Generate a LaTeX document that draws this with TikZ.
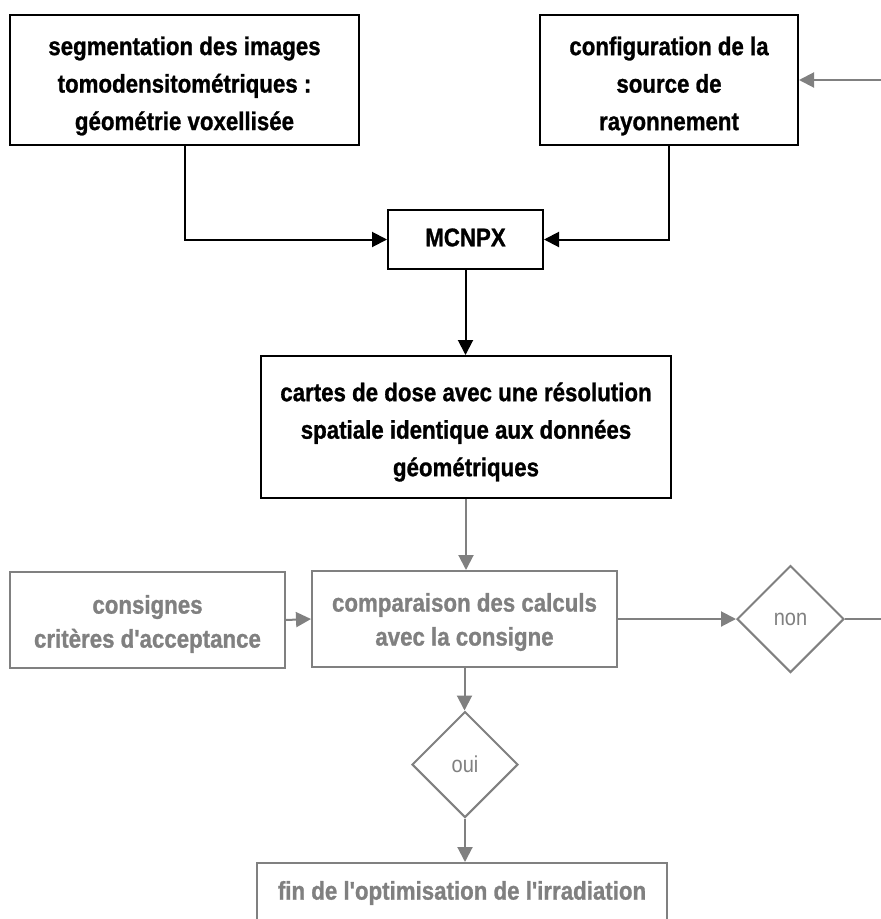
\documentclass[tikz,border=0pt]{standalone}
\usepackage{fontspec}
\setmainfont{Liberation Sans}[Ligatures=TeXOff, FakeStretch=0.87, BoldFeatures={FakeBold=1}]
\usetikzlibrary{arrows.meta,shapes.geometric}
\definecolor{flowgray}{RGB}{128,128,128}
\begin{document}
\begin{tikzpicture}[x=1pt,y=-1pt,
  darkbox/.style={draw=black,line width=2pt,inner sep=0pt,fill=white},
  greybox/.style={draw=flowgray,line width=2pt,inner sep=0pt,fill=white},
  greydiamond/.style={greybox,diamond,minimum width=#1,minimum height=#1},
  darktext/.style={font=\fontsize{25.6}{37.5}\selectfont\bfseries,align=center,text=black,inner sep=0pt},
  greytext/.style={font=\fontsize{25.6}{34}\selectfont\bfseries,align=center,text=flowgray,inner sep=0pt},
  answertext/.style={font=\fontsize{23}{27}\selectfont,align=center,text=flowgray,inner sep=0pt},
  darkarrow/.style={draw=black,line width=2pt,-{Triangle[length=15pt,width=15pt]}},
  greyarrow/.style={draw=flowgray,line width=2pt,-{Triangle[length=15pt,width=15pt]}},
  greyline/.style={draw=flowgray,line width=2pt}
]
\useasboundingbox (0,0) rectangle (881,919);

% input boxes
\node[darkbox,minimum width=349pt,minimum height=130pt] (seg) at (184.5,80) {};
\node[darktext] (segtxt) at ([yshift=-6pt]seg.center)
  {segmentation des images\\tomodensitométriques :\\géométrie voxellisée};
\node[darkbox,minimum width=258pt,minimum height=130pt] (src) at (669,80) {};
\node[darktext] (srctxt) at ([yshift=-6pt]src.center)
  {configuration de la\\source de\\rayonnement};

% transport code
\node[darkbox,minimum width=155pt,minimum height=59pt] (mc) at (465.5,239.5) {};
\node[darktext] (mctxt) at ([yshift=2pt]mc.center) {MCNPX};

% dose maps
\node[darkbox,minimum width=410pt,minimum height=142pt] (dose) at (466,427) {};
\node[darktext] (dosetxt) at ([yshift=-5pt]dose.center)
  {cartes de dose avec une résolution\\spatiale identique aux données\\géométriques};

% optimisation loop
\node[greybox,minimum width=275pt,minimum height=96pt] (crit) at (147.5,620) {};
\node[greytext] (crittxt) at ([yshift=-4pt]crit.center) {consignes\\critères d'acceptance};
\node[greybox,minimum width=305pt,minimum height=96pt] (cmp) at (464.5,619) {};
\node[greytext] (cmptxt) at ([yshift=-3pt]cmp.center) {comparaison des calculs\\avec la consigne};
\node[greydiamond=107pt] (non) at (790.5,619) {};
\node[answertext] (nontxt) at (non.center) {non};
\node[greydiamond=106pt] (oui) at (465,764.5) {};
\node[answertext] (ouitxt) at (oui.center) {oui};
\node[greybox,minimum width=410pt,minimum height=120pt] (fin) at (462,923) {};
\node[greytext] (fintxt) at (462,893) {fin de l'optimisation de l'irradiation};

\coordinate (srcfeed) at (881,80);
\coordinate (loopout) at (881,619);

% connectors
\draw[darkarrow] (seg.south) |- (mc.west);
\draw[darkarrow] (src.south) |- (mc.east);
\draw[darkarrow] (mc.south) -- (mc.south |- dose.north);
\draw[greyarrow] (srcfeed) -- (src.east);
\draw[greyarrow] (dose.south) -- (dose.south |- cmp.north);
\draw[greyarrow] (crit.east) -- (cmp.west);
\draw[greyarrow] (cmp.east) -- (non.west);
\draw[greyline] (non.east) -- (loopout);
\draw[greyarrow] (cmp.south) -- (cmp.south |- oui.north);
\draw[greyarrow] (oui.south) -- (oui.south |- fin.north);
\end{tikzpicture}
\end{document}
